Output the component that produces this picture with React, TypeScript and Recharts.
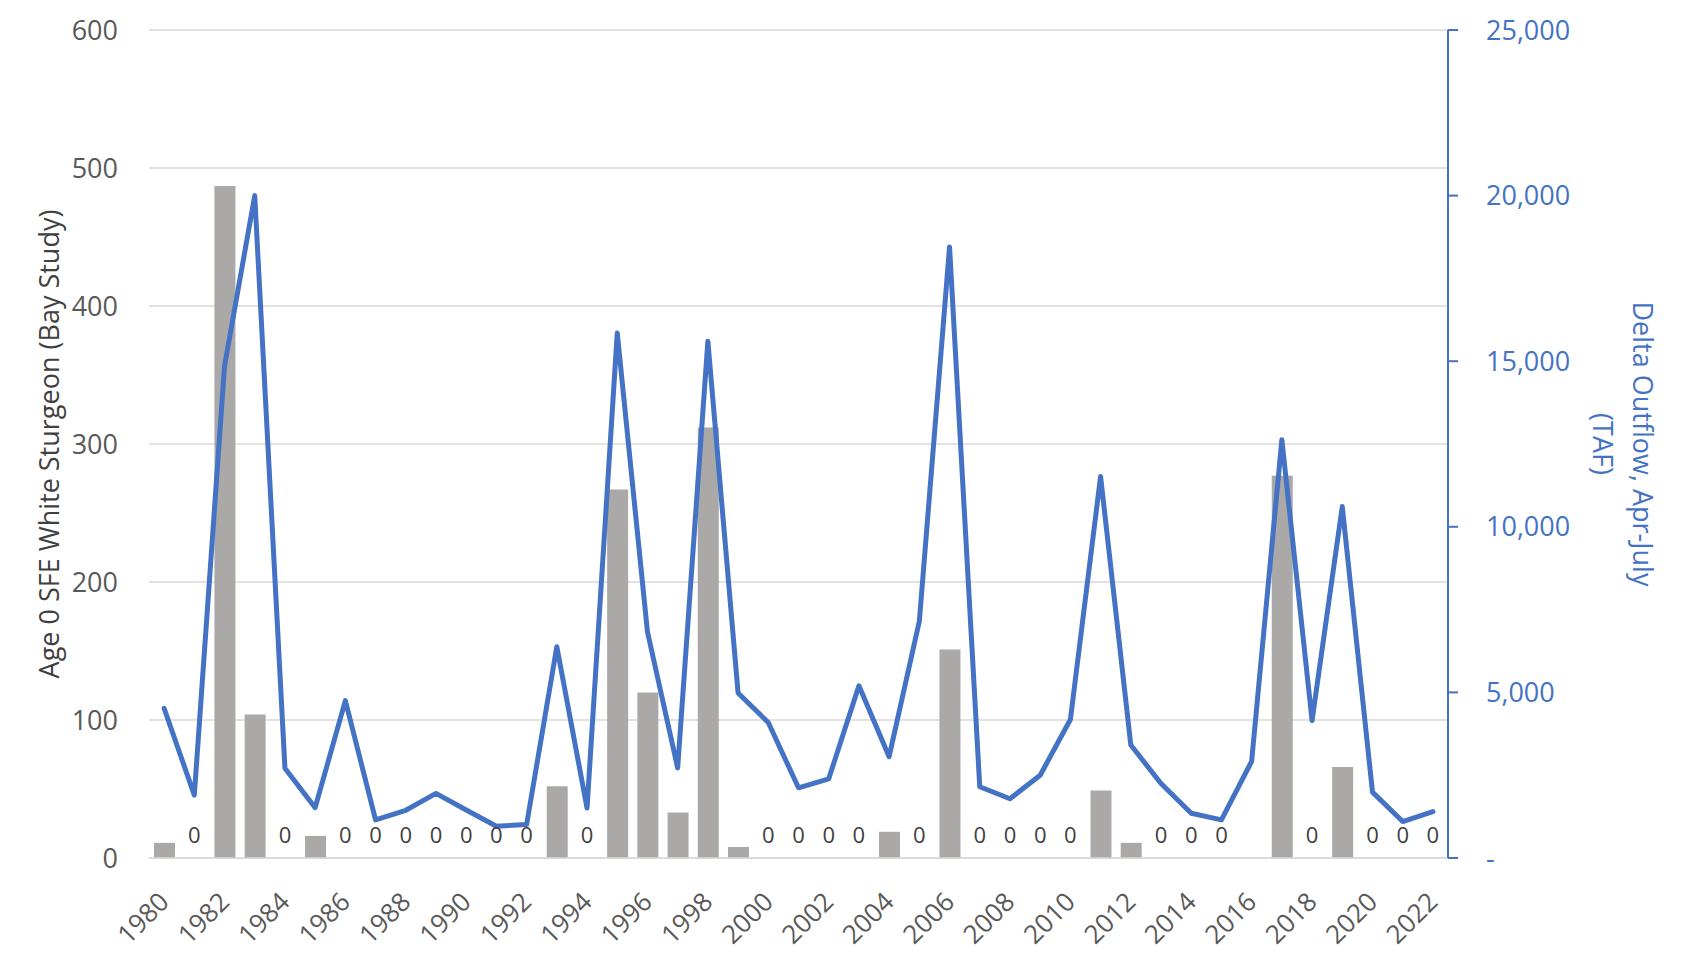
import React from 'react';
import { ComposedChart, Bar, Line, XAxis, YAxis, CartesianGrid } from 'recharts';

const years = [
  '1980', '1981', '1982', '1983', '1984', '1985', '1986', '1987', '1988', '1989',
  '1990', '1991', '1992', '1993', '1994', '1995', '1996', '1997', '1998', '1999',
  '2000', '2001', '2002', '2003', '2004', '2005', '2006', '2007', '2008', '2009',
  '2010', '2011', '2012', '2013', '2014', '2015', '2016', '2017', '2018', '2019',
  '2020', '2021', '2022',
];

// age 0 white sturgeon index (left axis); 2016 has no survey value
const sturgeon = [
  11, 0, 487, 104, 0, 16, 0, 0, 0, 0,
  0, 0, 0, 52, 0, 267, 120, 33, 312, 8,
  0, 0, 0, 0, 19, 0, 151, 0, 0, 0,
  0, 49, 11, 0, 0, 0, null, 277, 0, 66,
  0, 0, 0,
];

// delta outflow Apr-July, TAF (right axis)
const outflow = [
  4520, 1900, 14850, 20000, 2710, 1520, 4750, 1150, 1440, 1950,
  1450, 960, 1010, 6380, 1510, 15850, 6830, 2720, 15600, 4980,
  4090, 2120, 2390, 5200, 3060, 7150, 18450, 2150, 1790, 2500,
  4180, 11520, 3410, 2250, 1350, 1150, 2920, 12630, 4150, 10610,
  1990, 1100, 1400,
];

const leftTicks = [0, 100, 200, 300, 400, 500, 600];
const rightTicks = [0, 5000, 10000, 15000, 20000, 25000];

const data = years.map((year, i) => ({ year, sturgeon: sturgeon[i], outflow: outflow[i] }));

const BLUE = '#4472C4';
const tickFont = "'Open Sans', sans-serif";
const titleFont = "'Open Sans', sans-serif";

const YearTick = (props: any) => {
  const { x, y, payload } = props;
  return (
    <text
      x={x}
      y={y}
      dy="0.35em"
      textAnchor="end"
      transform={`rotate(-45, ${x}, ${y})`}
      fontSize={26}
      fontFamily={tickFont}
      fill="#595959"
    >
      {payload.value}
    </text>
  );
};

// data label "0" drawn only for years where the catch was zero
const ZeroDot = (props: any) => {
  const { cx, cy, value, index } = props;
  if (value !== 0 || cx == null || cy == null) return <g key={`z${index}`} />;
  return (
    <text
      key={`z${index}`}
      x={cx}
      y={cy - 15}
      textAnchor="middle"
      fontSize={22}
      fontFamily={tickFont}
      fill="#404040"
    >
      0
    </text>
  );
};

const LeftTitle = (props: any) => {
  const { viewBox } = props;
  const cx = viewBox.x + 48;
  const cy = viewBox.y + viewBox.height / 2;
  return (
    <text
      x={cx}
      y={cy}
      textAnchor="middle"
      dominantBaseline="central"
      transform={`rotate(-90, ${cx}, ${cy})`}
      fontSize={27}
      fontFamily={titleFont}
      fill="#404040"
    >
      Age 0 SFE White Sturgeon (Bay Study)
    </text>
  );
};

const RightTitle = (props: any) => {
  const { viewBox } = props;
  const cy = viewBox.y + viewBox.height / 2;
  const x1 = viewBox.x + 195;
  const x2 = viewBox.x + 155;
  return (
    <g fontSize={27} fontFamily={titleFont} fill={BLUE}>
      <text x={x1} y={cy} textAnchor="middle" dominantBaseline="central" transform={`rotate(90, ${x1}, ${cy})`}>
        Delta Outflow, Apr-July
      </text>
      <text x={x2} y={cy} textAnchor="middle" dominantBaseline="central" transform={`rotate(90, ${x2}, ${cy})`}>
        (TAF)
      </text>
    </g>
  );
};

export default function App() {
  return (
    <div style={{ width: 1690, height: 962, background: '#fff' }}>
      <style>{'body{margin:0}'}</style>
      <ComposedChart width={1690} height={962} data={data} margin={{ top: 30, right: 0, bottom: 0, left: 0 }}>
        <CartesianGrid yAxisId="left" vertical={false} stroke="#D9D9D9" strokeWidth={1.5} />
        <XAxis
          dataKey="year"
          interval={1}
          height={104}
          tick={<YearTick />}
          tickLine={false}
          tickSize={0}
          tickMargin={39}
          axisLine={{ stroke: '#D9D9D9', strokeWidth: 1.5 }}
        />
        <YAxis
          yAxisId="left"
          width={149}
          domain={[0, 600]}
          ticks={leftTicks}
          axisLine={false}
          tickLine={false}
          tickSize={0}
          tickMargin={31}
          tick={{ fontSize: 27, fontFamily: tickFont, fill: '#595959' }}
          label={<LeftTitle />}
        />
        <YAxis
          yAxisId="right"
          orientation="right"
          width={242}
          domain={[0, 25000]}
          ticks={rightTicks}
          axisLine={{ stroke: BLUE, strokeWidth: 2 }}
          tickLine={{ stroke: BLUE, strokeWidth: 2 }}
          tickSize={10}
          tickMargin={28}
          tickFormatter={(v: number) => (v === 0 ? '-' : v.toLocaleString('en-US'))}
          tick={{ fontSize: 27, fontFamily: tickFont, fill: BLUE }}
          label={<RightTitle />}
        />
        <Bar yAxisId="left" dataKey="sturgeon" fill="#ABA8A8" barSize={21} isAnimationActive={false} />
        <Line
          yAxisId="left"
          dataKey="sturgeon"
          stroke="none"
          dot={<ZeroDot />}
          activeDot={false}
          legendType="none"
          isAnimationActive={false}
        />
        <Line
          yAxisId="right"
          type="linear"
          dataKey="outflow"
          stroke={BLUE}
          strokeWidth={5}
          strokeLinejoin="round"
          strokeLinecap="round"
          dot={false}
          isAnimationActive={false}
        />
      </ComposedChart>
    </div>
  );
}
